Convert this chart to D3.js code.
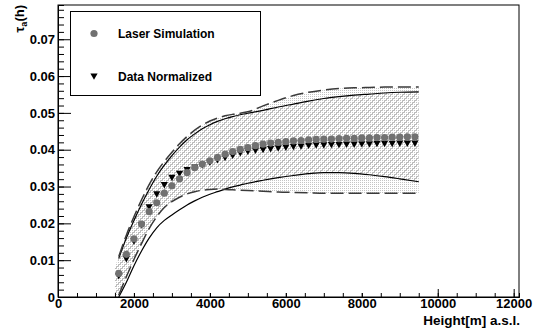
<!DOCTYPE html>
<html>
<head>
<meta charset="utf-8">
<script src="https://cdn.jsdelivr.net/npm/d3@7"></script>
<style>
  body { margin: 0; background: #fff; }
  svg text { font-family: "Liberation Sans", Arial, Helvetica, sans-serif; font-weight: bold; }
</style>
</head>
<body>
<div id="chart-area"></div>
<script>
// heights of the markers [m a.s.l.]
let heights = [1600, 1800, 2000, 2200, 2400, 2600, 2800, 3000, 3200, 3400,
               3600, 3800, 4000, 4200, 4400, 4600, 4800, 5000, 5200, 5400,
               5600, 5800, 6000, 6200, 6400, 6600, 6800, 7000, 7200, 7400,
               7600, 7800, 8000, 8200, 8400, 8600, 8800, 9000, 9200, 9400];

let laserSim = [0.0064, 0.0116, 0.0158, 0.0198, 0.0232, 0.0256, 0.0282, 0.0302, 0.0321, 0.0338,
                0.0351, 0.0361, 0.0370, 0.0379, 0.0388, 0.0395, 0.0401, 0.0406, 0.0411, 0.0415,
                0.0418, 0.0420, 0.0422, 0.0424, 0.0425, 0.0427, 0.0428, 0.0429, 0.0429, 0.0430,
                0.0431, 0.0431, 0.0432, 0.0432, 0.0433, 0.0433, 0.0434, 0.0434, 0.0435, 0.0435];

let dataNorm = [0.0058, 0.0104, 0.0152, 0.0196, 0.0245, 0.0280, 0.0305, 0.0325, 0.0336, 0.0346,
                0.0353, 0.0359, 0.0366, 0.0373, 0.0379, 0.0385, 0.0392, 0.0396, 0.0399, 0.0401,
                0.0403, 0.0405, 0.0407, 0.0409, 0.0410, 0.0412, 0.0413, 0.0413, 0.0414, 0.0414,
                0.0415, 0.0415, 0.0416, 0.0416, 0.0417, 0.0417, 0.0417, 0.0418, 0.0418, 0.0418];

// envelope curves
let curveX = [1500, 1600, 1800, 2000, 2200, 2400, 2600, 2800, 3000, 3200,
              3400, 3600, 3800, 4000, 4200, 4400, 4600, 4800, 5000, 5400,
              5800, 6200, 6600, 7000, 7400, 7800, 8200, 8600, 9000, 9500];

let upperDashed = [0.0082, 0.0110, 0.0168, 0.0218, 0.0264, 0.0305, 0.0340, 0.0368, 0.0393, 0.0416,
                   0.0436, 0.0453, 0.0467, 0.0478, 0.0486, 0.0492, 0.0496, 0.0499, 0.0503, 0.0519,
                   0.0534, 0.0547, 0.0556, 0.0562, 0.0566, 0.0568, 0.0569, 0.0570, 0.0570, 0.0570];

let upperSolid = [0.0080, 0.0105, 0.0160, 0.0208, 0.0252, 0.0292, 0.0328, 0.0358, 0.0384, 0.0407,
                  0.0427, 0.0443, 0.0457, 0.0468, 0.0477, 0.0484, 0.0490, 0.0495, 0.0499, 0.0507,
                  0.0516, 0.0524, 0.0532, 0.0539, 0.0544, 0.0548, 0.0551, 0.0554, 0.0556, 0.0557];

let lowerDashed = [0.0000, 0.0005, 0.0055, 0.0102, 0.0145, 0.0186, 0.0218, 0.0243, 0.0259, 0.0271,
                   0.0280, 0.0286, 0.0290, 0.0292, 0.0293, 0.0292, 0.0291, 0.0290, 0.0289, 0.0287,
                   0.0285, 0.0284, 0.0283, 0.0282, 0.0282, 0.0282, 0.0282, 0.0282, 0.0282, 0.0282];

let lowerSolid = [0.0000, 0.0000, 0.0040, 0.0085, 0.0125, 0.0160, 0.0188, 0.0208, 0.0223, 0.0237,
                  0.0250, 0.0261, 0.0271, 0.0279, 0.0286, 0.0293, 0.0299, 0.0304, 0.0309, 0.0317,
                  0.0324, 0.0330, 0.0335, 0.0338, 0.0338, 0.0336, 0.0332, 0.0327, 0.0321, 0.0313];

let xTicks = [0, 2000, 4000, 6000, 8000, 10000, 12000];
let yTicks = [0, 0.01, 0.02, 0.03, 0.04, 0.05, 0.06, 0.07];
let legendLabels = ["Laser Simulation", "Data Normalized"];

let W = 539, H = 335;
let frame = { left: 58, top: 5, right: 519, bottom: 297 };

let svg = d3.select("#chart-area")
    .append("svg")
    .attr("width", W)
    .attr("height", H);

let xScale = d3.scaleLinear()
    .domain([0, 12140])
    .range([frame.left, frame.right]);

let yScale = d3.scaleLinear()
    .domain([0, 0.0793])
    .range([frame.bottom, frame.top]);

let defs = svg.append("defs");

// light stipple fill
let dots = defs.append("pattern")
    .attr("id", "stipple")
    .attr("patternUnits", "userSpaceOnUse")
    .attr("width", 2).attr("height", 2);
dots.append("rect").attr("width", 2).attr("height", 2).attr("fill", "#fff");
dots.append("rect").attr("width", 1).attr("height", 1).attr("fill", "#c4c4c4");

// diagonal hatch
let hatch = defs.append("pattern")
    .attr("id", "hatch")
    .attr("patternUnits", "userSpaceOnUse")
    .attr("width", 6).attr("height", 6);
hatch.append("path")
    .attr("d", "M-1,1 l2,-2 M0,6 l6,-6 M5,7 l2,-2")
    .attr("stroke", "#9a9a9a")
    .attr("stroke-width", 0.7);

defs.append("clipPath").attr("id", "plot-clip")
    .append("rect")
    .attr("x", frame.left).attr("y", frame.top)
    .attr("width", frame.right - frame.left)
    .attr("height", frame.bottom - frame.top);

let plot = svg.append("g").attr("clip-path", "url(#plot-clip)");

// bands
let outerBand = d3.area()
    .x((d, i) => xScale(curveX[i]))
    .y0((d, i) => yScale(lowerDashed[i]))
    .y1((d, i) => yScale(upperDashed[i]))
    .curve(d3.curveMonotoneX);

let innerBand = d3.area()
    .x((d, i) => xScale(curveX[i]))
    .y0((d, i) => yScale(Math.max(lowerSolid[i], lowerDashed[i])))
    .y1((d, i) => yScale(Math.min(upperSolid[i], upperDashed[i])))
    .curve(d3.curveMonotoneX);

plot.append("path")
    .attr("d", outerBand(curveX))
    .attr("fill", "url(#stipple)");

plot.append("path")
    .attr("d", innerBand(curveX))
    .attr("fill", "url(#hatch)");

// envelope lines
function curveLine(vals){
    return d3.line()
        .defined((d, i) => curveX[i] >= 1600)
        .x((d, i) => xScale(curveX[i]))
        .y((d, i) => yScale(vals[i]))
        .curve(d3.curveMonotoneX)(curveX);
}

[upperSolid, lowerSolid].forEach(function(vals){
    plot.append("path")
        .attr("d", curveLine(vals))
        .attr("fill", "none")
        .attr("stroke", "#000")
        .attr("stroke-width", 1.2);
});

[upperDashed, lowerDashed].forEach(function(vals){
    plot.append("path")
        .attr("d", curveLine(vals))
        .attr("fill", "none")
        .attr("stroke", "#3a3a3a")
        .attr("stroke-width", 1.5)
        .attr("stroke-dasharray", "13,5");
});

// markers
function triPath(cx, cy){
    return "M" + (cx - 3.6) + "," + (cy - 2.6) + "L" + (cx + 3.6) + "," + (cy - 2.6) +
           "L" + cx + "," + (cy + 3.8) + "Z";
}

plot.selectAll("path.tri")
    .data(dataNorm)
    .enter().append("path")
    .attr("class", "tri")
    .attr("d", (d, i) => triPath(xScale(heights[i]), yScale(d)))
    .attr("fill", "#000");

plot.selectAll("circle.sim")
    .data(laserSim)
    .enter().append("circle")
    .attr("class", "sim")
    .attr("cx", (d, i) => xScale(heights[i]))
    .attr("cy", d => yScale(d))
    .attr("r", 3.6)
    .attr("fill", "#717171");

// frame
svg.append("rect")
    .attr("x", frame.left).attr("y", frame.top)
    .attr("width", frame.right - frame.left)
    .attr("height", frame.bottom - frame.top)
    .attr("fill", "none")
    .attr("stroke", "#000")
    .attr("stroke-width", 1);

// x axis (ticks point inward)
let xMinor = svg.append("g")
    .attr("transform", `translate(0, ${frame.bottom})`)
    .call(d3.axisBottom(xScale).tickValues(d3.range(500, 12001, 500)).tickSize(-4).tickFormat(""));

let xAxis = svg.append("g")
    .attr("transform", `translate(0, ${frame.bottom})`)
    .call(d3.axisBottom(xScale).tickValues(xTicks).tickSizeInner(-8).tickSizeOuter(0)
        .tickFormat(d3.format("d")));
xAxis.selectAll(".tick line").filter(d => d > 0 && d < 9000).attr("y2", -4);

// y axis
let yMinor = svg.append("g")
    .attr("transform", `translate(${frame.left}, 0)`)
    .call(d3.axisLeft(yScale).tickValues(d3.range(0, 0.0791, 0.002)).tickSize(-6).tickFormat(""));

let yAxis = svg.append("g")
    .attr("transform", `translate(${frame.left}, 0)`)
    .call(d3.axisLeft(yScale).tickValues(yTicks).tickSizeInner(-13).tickSizeOuter(0)
        .tickFormat(d => d === 0 ? "0" : d3.format(".2f")(d)));

[xMinor, xAxis, yMinor, yAxis].forEach(function(a){
    a.select(".domain").attr("stroke", "#000");
    a.selectAll(".tick line").attr("stroke", "#000");
    a.selectAll("text").attr("font-size", "13px").attr("fill", "#000")
        .style("font-family", "'Liberation Sans', Arial, sans-serif").style("font-weight", "bold");
});
xAxis.selectAll("text").attr("dy", "0.71em").attr("y", 2);
yAxis.selectAll("text").attr("x", -3);

// axis titles
svg.append("text")
    .attr("x", frame.right + 1)
    .attr("y", 325)
    .attr("text-anchor", "end")
    .attr("font-size", "13.5px")
    .text("Height[m] a.s.l.");

let yTitle = svg.append("text")
    .attr("transform", "translate(24, 5) rotate(-90)")
    .attr("text-anchor", "end")
    .attr("font-size", "13px");
yTitle.append("tspan").text("\u03c4");
yTitle.append("tspan").attr("font-size", "9px").attr("dy", 3).text("a");
yTitle.append("tspan").attr("dy", -3).text("(h)");

// legend
let legend = svg.append("g");
legend.append("rect")
    .attr("x", 70.5).attr("y", 11.5)
    .attr("width", 190).attr("height", 84)
    .attr("fill", "#fff")
    .attr("stroke", "#000");

legendLabels.forEach(function(label, i){
    let row = legend.append("g")
        .attr("transform", "translate(0, " + (i * 42.5) + ")");
    if (i === 0) {
        row.append("circle").attr("cx", 94).attr("cy", 33.5).attr("r", 3.6).attr("fill", "#717171");
    } else {
        row.append("path").attr("d", triPath(94, 33.5)).attr("fill", "#000");
    }
    row.append("text")
        .attr("x", 118)
        .attr("y", 38)
        .attr("font-size", "12px")
        .text(label);
});
</script>
</body>
</html>
